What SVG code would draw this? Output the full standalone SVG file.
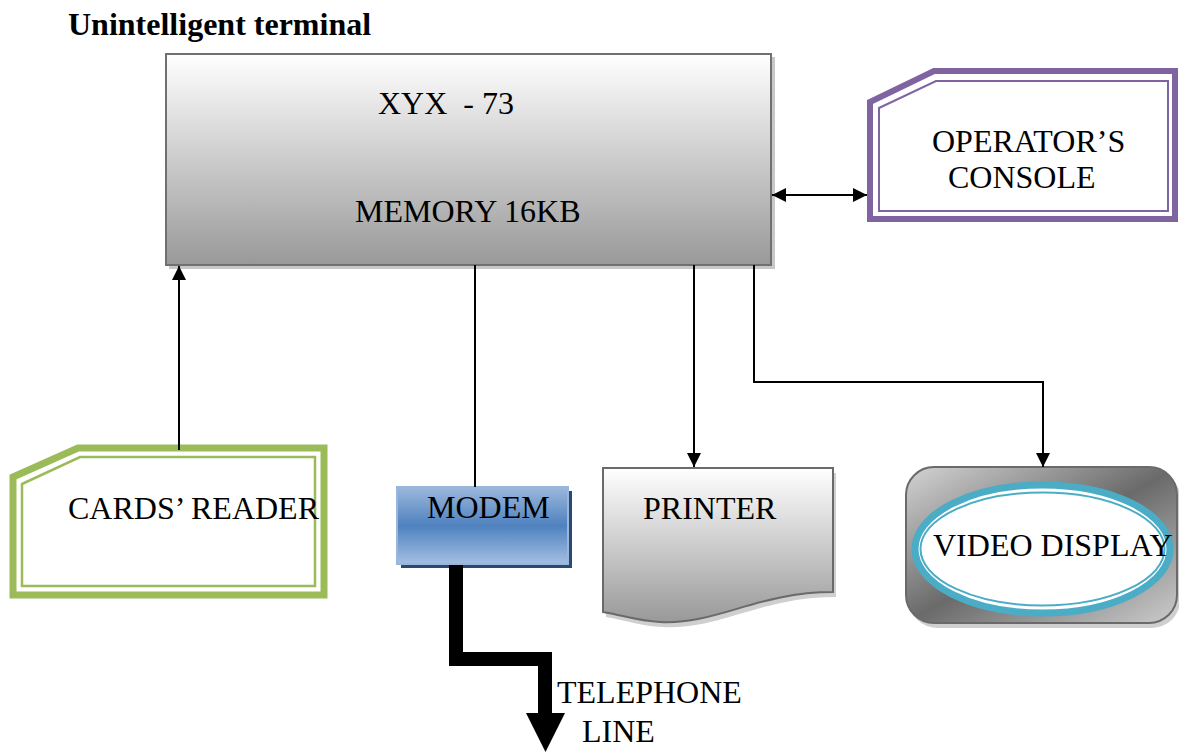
<svg xmlns="http://www.w3.org/2000/svg" width="1179" height="753" viewBox="0 0 1179 753">
<style>
text{font-family:"Liberation Serif","Times New Roman",serif;font-size:32px;fill:#000}
.title{font-weight:bold}
.pre{white-space:pre}
.conn{stroke:#000;stroke-width:2;fill:none}
</style>
<defs>
<linearGradient id="gGray" x1="0" y1="0" x2="0" y2="1">
<stop offset="0" stop-color="#ffffff"/><stop offset="1" stop-color="#999999"/>
</linearGradient>
<linearGradient id="gBlue" x1="0" y1="0" x2="0" y2="1">
<stop offset="0" stop-color="#9cb8dc"/><stop offset="0.5" stop-color="#4f82bf"/><stop offset="1" stop-color="#a3bfe2"/>
</linearGradient>
<linearGradient id="gVid" x1="0" y1="0" x2="1" y2="1">
<stop offset="0" stop-color="#d4d4d4"/><stop offset="0.5" stop-color="#6a6a6a"/><stop offset="1" stop-color="#cccccc"/>
</linearGradient>
<marker id="ah" viewBox="0 0 10 10" refX="10" refY="5" markerWidth="7" markerHeight="7" orient="auto-start-reverse" markerUnits="strokeWidth">
<path d="M0,0 L10,5 L0,10 Z" fill="#000"/>
</marker>
</defs>

<text class="title" x="68" y="35">Unintelligent terminal</text>

<g id="main">
<rect x="169" y="57" width="606" height="212" fill="#c8c8c8"/>
<rect x="166" y="54" width="605" height="211" fill="url(#gGray)" stroke="#707070" stroke-width="2"/>
<text class="pre" x="378" y="114">XYX  - 73</text>
<text x="355" y="222">MEMORY 16KB</text>
</g>

<g id="operator">
<path d="M870,102 L934,71 L1175,71 L1175,219 L870,219 Z" fill="#fff" stroke="#8064a2" stroke-width="6"/>
<path d="M879,108 L936,81 L1168,81 L1168,211 L879,211 Z" fill="none" stroke="#8064a2" stroke-width="2"/>
<text x="932" y="152">OPERATOR’S</text>
<text x="948" y="188">CONSOLE</text>
</g>

<g id="cards">
<path d="M13,477 L78,448 L324,448 L324,595 L13,595 Z" fill="#fff" stroke="#9bbb59" stroke-width="7"/>
<path d="M22,484 L80,457 L315,457 L315,586 L22,586 Z" fill="none" stroke="#9bbb59" stroke-width="2.5"/>
<text x="68" y="519">CARDS’ READER</text>
</g>

<g id="modem">
<rect x="401" y="491" width="171" height="77" fill="#2a4a73"/>
<rect x="397" y="487" width="171" height="77" fill="url(#gBlue)" stroke="#9ab6db" stroke-width="2"/>
<text x="427" y="518">MODEM</text>
</g>

<g id="printer">
<path d="M606,473 L836,473 L836,597 C760,597 720,630 663,627 C640,626 625,620 606,617 Z" fill="#cfcfcf"/>
<path d="M603,468 L833,468 L833,592 C757,592 717,625 660,622 C637,621 622,615 603,612 Z" fill="url(#gGray)" stroke="#6a6a6a" stroke-width="2"/>
<text x="643" y="519">PRINTER</text>
</g>

<g id="video">
<rect x="909" y="470" width="271" height="158" rx="28" fill="#cfcfcf"/>
<rect x="906" y="467" width="271" height="156" rx="28" fill="url(#gVid)" stroke="#6a6a6a" stroke-width="2"/>
<ellipse cx="1042.5" cy="549" rx="127.5" ry="64" fill="#fff" stroke="#4bacc6" stroke-width="7"/>
<ellipse cx="1042.5" cy="549" rx="122" ry="56.5" fill="none" stroke="#4bacc6" stroke-width="2"/>
<text x="933" y="556">VIDEO DISPLAY</text>
</g>

<g id="connectors">
<line class="conn" x1="179" y1="450" x2="179" y2="266" marker-end="url(#ah)"/>
<line class="conn" x1="475" y1="265" x2="475" y2="487"/>
<line class="conn" x1="694" y1="265" x2="694" y2="467" marker-end="url(#ah)"/>
<polyline class="conn" points="754,265 754,382 1043,382 1043,467" marker-end="url(#ah)"/>
<line class="conn" x1="772" y1="195" x2="867" y2="195" marker-start="url(#ah)" marker-end="url(#ah)"/>
<polyline points="456,565 456,659 545,659 545,714" fill="none" stroke="#000" stroke-width="14"/>
<path d="M526,713 L565,713 L545.5,752 Z" fill="#000"/>
</g>
<text x="557" y="703">TELEPHONE</text>
<text x="582" y="742">LINE</text>
</svg>
